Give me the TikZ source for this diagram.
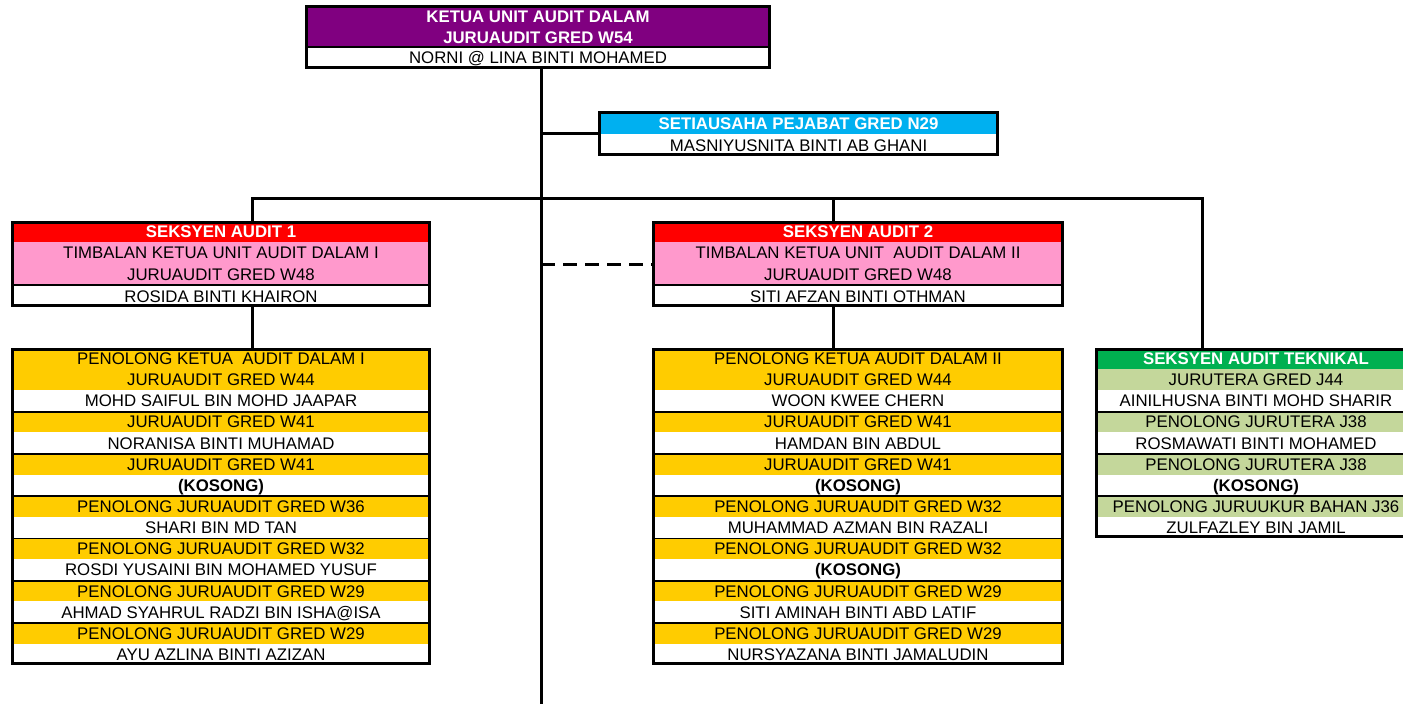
\documentclass[tikz,border=0pt]{standalone}
\usepackage{fontspec}
\setmainfont{Liberation Sans}
\definecolor{purp}{HTML}{800080}
\definecolor{skyb}{HTML}{00B0F0}
\definecolor{redh}{HTML}{FF0000}
\definecolor{pinkr}{HTML}{FF99CC}
\definecolor{gold}{HTML}{FFCC00}
\definecolor{greenh}{HTML}{00B050}
\definecolor{lgreen}{HTML}{C4D79B}
\tikzset{
  txt/.style={inner sep=0pt, outer sep=0pt, font=\fontsize{16.8}{20}\selectfont, text height=12pt, text depth=0pt, text=black},
  cell/.style={txt, draw=none, minimum height=21.6pt},
  hdr/.style={cell, text=white, font=\fontsize{16.8}{20}\selectfont\bfseries},
  frame/.style={draw=black, line width=3.5pt, inner sep=0pt, fill=none},
  conn/.style={draw=black, line width=3pt, line join=miter},
  sep/.style={draw=black, line width=1.8pt},
  dashconn/.style={conn, dash pattern=on 14pt off 8pt}
}
\newcommand\listbox[4]{%
  \foreach \k/\f/\t in {#4} {
    \node[cell, fill=\f, minimum width=#3] (#1\k) at (#2, {348+(\k+0.5)*21.13}) {\t};
  }}
\begin{document}
\begin{tikzpicture}[x=1pt,y=-1pt]
\useasboundingbox (0,0) rectangle (1403,704);
\fill[white] (0,0) rectangle (1403,704);

% ---- top box
\node[cell, fill=purp, minimum width=463pt, minimum height=42pt] (kbg) at (538,26) {};
\node[hdr] (k1) at (538,16.5) {KETUA UNIT AUDIT DALAM};
\node[hdr] (k2) at (538,37) {JURUAUDIT GRED W54};
\node[cell, fill=white, minimum width=463pt] (k3) at (538,57.5) {NORNI @ LINA BINTI MOHAMED};
\draw[sep] (k3.north west) -- (k3.north east);
\node[frame, minimum width=463pt, minimum height=61pt] (ketua) at (538,37) {};

% ---- secretary
\node[hdr, fill=skyb, minimum width=398pt, minimum height=23pt] (st1) at (798.5,123) {SETIAUSAHA PEJABAT GRED N29};
\node[cell, fill=white, minimum width=398pt] (st2) at (798.5,145) {MASNIYUSNITA BINTI AB GHANI};
\node[frame, minimum width=398pt, minimum height=42pt] (setia) at (798.5,133.5) {};

% ---- seksyen 1 header
\node[hdr, fill=redh, minimum width=417pt] (a0) at (221,231.5) {SEKSYEN AUDIT 1};
\node[cell, fill=pinkr, minimum width=417pt, minimum height=43pt] (abg) at (221,263.5) {};
\node[txt] (a1) at (221,252.5) {TIMBALAN KETUA UNIT AUDIT DALAM I};
\node[txt] (a2) at (221,274) {JURUAUDIT GRED W48};
\node[cell, fill=white, minimum width=417pt] (a3) at (221,296) {ROSIDA BINTI KHAIRON};
\draw[sep] (a3.north west) -- (a3.north east);
\node[frame, minimum width=417pt, minimum height=83pt] (s1) at (221,264) {};

% ---- seksyen 2 header
\node[hdr, fill=redh, minimum width=409pt] (b0) at (858,231.5) {SEKSYEN AUDIT 2};
\node[cell, fill=pinkr, minimum width=409pt, minimum height=43pt] (bbg) at (858,263.5) {};
\node[txt] (b1) at (858,252.5) {TIMBALAN KETUA UNIT\ \ AUDIT DALAM II};
\node[txt] (b2) at (858,274) {JURUAUDIT GRED W48};
\node[cell, fill=white, minimum width=409pt] (b3) at (858,296) {SITI AFZAN BINTI OTHMAN};
\draw[sep] (b3.north west) -- (b3.north east);
\node[frame, minimum width=409pt, minimum height=83pt] (s2) at (858,264) {};

% ---- list 1
\listbox{p}{221}{417pt}{0/gold/{PENOLONG KETUA\ \ AUDIT DALAM I},1/gold/{JURUAUDIT GRED W44},2/white/{MOHD SAIFUL BIN MOHD JAAPAR},3/gold/{JURUAUDIT GRED W41},4/white/{NORANISA BINTI MUHAMAD},5/gold/{JURUAUDIT GRED W41},6/white/{\textbf{(KOSONG)}},7/gold/{PENOLONG JURUAUDIT GRED W36},8/white/{SHARI BIN MD TAN},9/gold/{PENOLONG JURUAUDIT GRED W32},10/white/{ROSDI YUSAINI BIN MOHAMED YUSUF},11/gold/{PENOLONG JURUAUDIT GRED W29},12/white/{AHMAD SYAHRUL RADZI BIN ISHA@ISA},13/gold/{PENOLONG JURUAUDIT GRED W29},14/white/{AYU AZLINA BINTI AZIZAN}}
\foreach \k in {2,4,6,8,10,12} \draw[sep] (p\k.south west) -- (p\k.south east);
\node[frame, minimum width=417pt, minimum height=314pt] (L1) at (221,506.5) {};

% ---- list 2
\listbox{q}{858}{409pt}{0/gold/{PENOLONG KETUA AUDIT DALAM II},1/gold/{JURUAUDIT GRED W44},2/white/{WOON KWEE CHERN},3/gold/{JURUAUDIT GRED W41},4/white/{HAMDAN BIN ABDUL},5/gold/{JURUAUDIT GRED W41},6/white/{\textbf{(KOSONG)}},7/gold/{PENOLONG JURUAUDIT GRED W32},8/white/{MUHAMMAD AZMAN BIN RAZALI},9/gold/{PENOLONG JURUAUDIT GRED W32},10/white/{\textbf{(KOSONG)}},11/gold/{PENOLONG JURUAUDIT GRED W29},12/white/{SITI AMINAH BINTI ABD LATIF},13/gold/{PENOLONG JURUAUDIT GRED W29},14/white/{NURSYAZANA BINTI JAMALUDIN}}
\foreach \k in {2,4,6,8,10,12} \draw[sep] (q\k.south west) -- (q\k.south east);
\node[frame, minimum width=409pt, minimum height=314pt] (L2) at (858,506.5) {};

% ---- teknikal
\node[hdr, fill=greenh, minimum width=319pt] (t0) at (1256,{348+0.5*21.13}) {SEKSYEN AUDIT TEKNIKAL};
\listbox{t}{1256}{319pt}{1/lgreen/{JURUTERA GRED J44},2/white/{AINILHUSNA BINTI MOHD SHARIR},3/lgreen/{PENOLONG JURUTERA J38},4/white/{ROSMAWATI BINTI MOHAMED},5/lgreen/{PENOLONG JURUTERA J38},6/white/{\textbf{(KOSONG)}},7/lgreen/{PENOLONG JURUUKUR BAHAN J36},8/white/{ZULFAZLEY BIN JAMIL}}
\foreach \k in {2,4,6} \draw[sep] (t\k.south west) -- (t\k.south east);
\node[frame, minimum width=319pt, minimum height=187pt] (tek) at (1256,443) {};

% ---- connectors
\coordinate (spB) at (541,704);
\coordinate (barL) at (252,198);
\coordinate (barR) at (1202,198);
\coordinate (d2) at (833,198);
\draw[conn] (ketua.south -| spB) -- (spB);
\draw[conn] (spB |- setia.west) -- (setia.west);
\draw[conn] (s1.north -| barL) -- (barL) -- (barR) -- (barR |- tek.north);
\draw[conn] (d2) -- (d2 |- s2.north);
\draw[conn] (s1.south -| barL) -- (L1.north -| barL);
\draw[conn] (s2.south -| d2) -- (L2.north -| d2);
\draw[dashconn] (spB |- s2.west) -- (s2.west);
\end{tikzpicture}
\end{document}
